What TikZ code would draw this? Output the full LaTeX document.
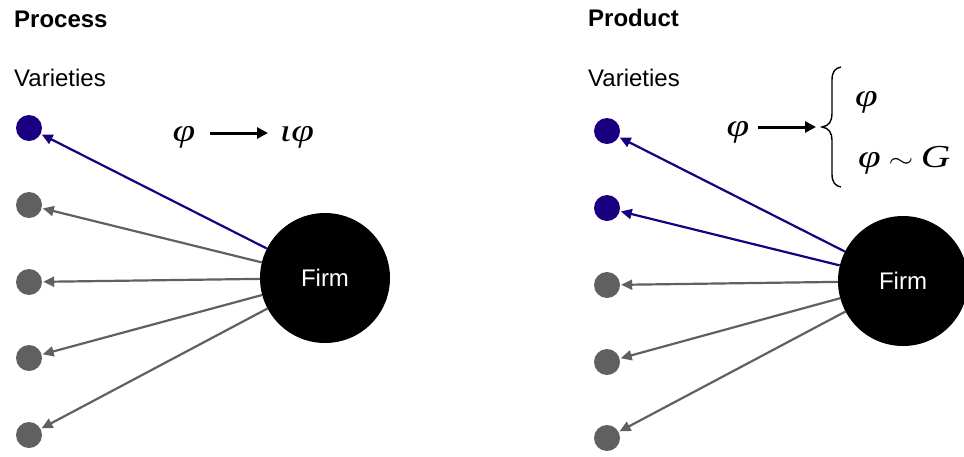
\documentclass[tikz,border=0pt]{standalone}
\usepackage{fontspec}
\usepackage{graphicx}
\setmainfont{Liberation Sans}
\newfontfamily\tms{Liberation Serif}
\usetikzlibrary{arrows.meta}
\definecolor{vblue}{RGB}{26,0,128}
\definecolor{vgray}{RGB}{96,96,96}
\newcommand{\mx}[1]{\scalebox{1.28}[1]{#1}}
\begin{document}
\begin{tikzpicture}[x=1pt,y=-1pt,
  dot/.style={circle,fill=vgray,minimum size=26pt,inner sep=0pt},
  bdot/.style={dot,fill=vblue},
  firm/.style={circle,fill=black,minimum size=130pt,inner sep=0pt,text=white,font=\fontsize{24}{28}\selectfont},
  conn/.style={vgray,line width=2.2pt,-{Triangle[length=11pt,width=10pt]},shorten >=1pt},
  bconn/.style={conn,vblue},
  lbl/.style={anchor=base west,inner sep=0pt,font=\fontsize{24}{28}\selectfont},
  ttl/.style={lbl,font=\fontsize{24}{28}\selectfont\bfseries},
  mth/.style={anchor=base,inner sep=0pt,font=\fontsize{32}{36}\selectfont\tms\itshape},
  marr/.style={black,line width=3pt,-{Triangle[length=11pt,width=11pt]}},
  brc/.style={black,line width=1.4pt}
]
\useasboundingbox (0,0) rectangle (964,456);
\begin{scope}
\clip (0,0) rectangle (964,456);
% ---------- Left: Process ----------
\node[ttl] (tP) at (14,27) {Process};
\node[lbl] (vP) at (14,86) {Varieties};
\node[bdot] (p1) at (29,128) {};
\node[dot] (p2) at (29,205) {};
\node[dot] (p3) at (29,282) {};
\node[dot] (p4) at (29,358) {};
\node[dot] (p5) at (29,435) {};
\node[firm] (fP) at (325,278) {Firm};
\draw[bconn] (fP) -- (p1);
\draw[conn] (fP) -- (p2);
\draw[conn] (fP) -- (p3);
\draw[conn] (fP) -- (p4);
\draw[conn] (fP) -- (p5);
\node[mth] (phiL) at (184,141) {\mx{φ}};
\node[mth] (iphiL) at (297,141) {\mx{ιφ}};
\coordinate (aL1) at (210,133);
\coordinate (aL2) at (268,133);
\draw[marr] (aL1) -- (aL2);
% ---------- Right: Product ----------
\node[ttl] (tR) at (588,26) {Product};
\node[lbl] (vR) at (588,86) {Varieties};
\node[bdot] (r1) at (607,131) {};
\node[bdot] (r2) at (607,208) {};
\node[dot] (r3) at (607,285) {};
\node[dot] (r4) at (607,362) {};
\node[dot] (r5) at (607,438) {};
\node[firm] (fR) at (903,281) {Firm};
\draw[bconn] (fR) -- (r1);
\draw[bconn] (fR) -- (r2);
\draw[conn] (fR) -- (r3);
\draw[conn] (fR) -- (r4);
\draw[conn] (fR) -- (r5);
\node[mth] (phiR) at (738,136) {\mx{φ}};
\coordinate (aR1) at (758,127);
\coordinate (aR2) at (816,127);
\draw[marr] (aR1) -- (aR2);
\draw[brc] (841,67) .. controls (835,68) and (832,72) .. (832,80) -- (832,114)
  .. controls (832,121) and (829,126) .. (822,127)
  .. controls (829,128) and (832,133) .. (832,140) -- (832,174)
  .. controls (832,182) and (835,186) .. (841,187);
\node[mth,anchor=base west] (phiA) at (855,106) {\mx{φ}};
\node[mth,anchor=base west] (phiB) at (858,167) {\mx{φ\hspace{6pt}{\upshape$\sim$}\hspace{6pt}G}};
\end{scope}
\end{tikzpicture}
\end{document}
